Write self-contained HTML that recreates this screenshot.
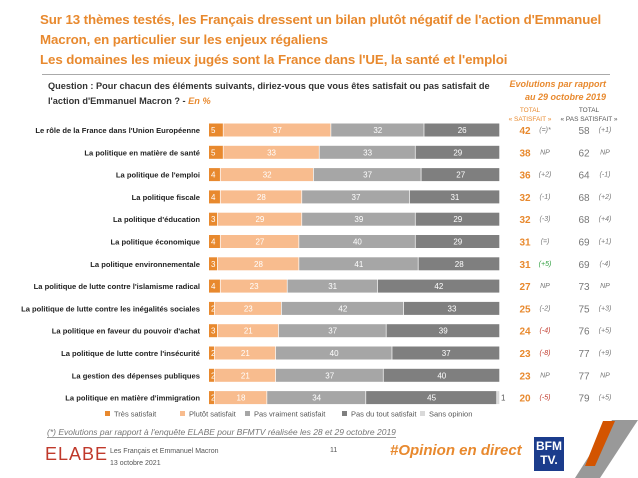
<!DOCTYPE html>
<html><head><meta charset="utf-8"><style>
body{margin:0;width:638px;height:478px;background:#fff;overflow:hidden;font-family:"Liberation Sans",sans-serif;position:relative}
.t{position:absolute;white-space:nowrap}
</style></head><body>
<div class="t" style="left:40px;top:10px;color:#E8892E;font-weight:bold;font-size:13.3px;line-height:20px;letter-spacing:-0.1px">Sur 13 thèmes testés, les Français dressent un bilan plutôt négatif de l'action d'Emmanuel<br>Macron, en particulier sur les enjeux régaliens<br>Les domaines les mieux jugés sont la France dans l'UE, la santé et l'emploi</div>
<div style="position:absolute;left:42px;top:74px;width:568px;height:1px;background:#aaa"></div>
<div class="t" style="left:48px;top:79px;font-size:9.2px;line-height:15px;color:#333;font-weight:bold">Question : Pour chacun des éléments suivants, diriez-vous que vous êtes satisfait ou pas satisfait de<br>l'action d'Emmanuel Macron ? - <i style="color:#E8892E">En %</i></div>
<div class="t" style="left:496px;top:78px;width:110px;text-align:right;font-size:9px;line-height:13px;color:#E8892E;font-style:italic;font-weight:bold">Evolutions par rapport<br>au 29 octobre 2019</div>
<div class="t" style="left:505px;top:106px;width:50px;text-align:center;font-size:6.5px;line-height:9px;color:#E8892E">TOTAL<br>« SATISFAIT »</div>
<div class="t" style="left:557px;top:106px;width:64px;text-align:center;font-size:6.5px;line-height:9px;color:#555">TOTAL<br>« PAS SATISFAIT »</div>
<svg id="c" width="638" height="478" style="position:absolute;left:0;top:0"></svg>
<div class="t" style="left:47px;top:427px;font-size:8.5px;color:#777;font-style:italic;border-bottom:1px solid #999">(*) Evolutions par rapport à l'enquête ELABE pour BFMTV réalisée les 28 et 29 octobre 2019</div>
<div class="t" style="left:45px;top:444px;font-size:18px;color:#c0392b;letter-spacing:1px">ELABE</div>
<div class="t" style="left:110px;top:446px;font-size:7px;line-height:12px;color:#555">Les Français et Emmanuel Macron<br>13 octobre 2021</div>
<div class="t" style="left:330px;top:447px;font-size:7px;color:#555">11</div>
<div class="t" style="left:390px;top:442px;font-size:15px;color:#E8892E;font-style:italic;font-weight:bold">#Opinion en direct</div>
<div style="position:absolute;left:534px;top:437px;width:30px;height:32px;background:#1b3c8c;color:#fff;font-weight:bold;font-size:12px;line-height:14px;text-align:center;padding-top:2px">BFM<br>TV.</div>
<script>
const categories=["Le rôle de la France dans l'Union Européenne","La politique en matière de santé","La politique de l'emploi","La politique fiscale","La politique d'éducation","La politique économique","La politique environnementale","La politique de lutte contre l'islamisme radical","La politique de lutte contre les inégalités sociales","La politique en faveur du pouvoir d'achat","La politique de lutte contre l'insécurité","La gestion des dépenses publiques","La politique en matière d'immigration"];
const tres=[5,5,4,4,3,4,3,4,2,3,2,2,2];
const plutot=[37,33,32,28,29,27,28,23,23,21,21,21,18];
const pasVraiment=[32,33,37,37,39,40,41,31,42,37,40,37,34];
const pasDuTout=[26,29,27,31,29,29,28,42,33,39,37,40,45];
const sansOpinion=[0,0,0,0,0,0,0,0,0,0,0,0,1];
const totSat=[42,38,36,32,32,31,31,27,25,24,23,23,20];
const evoSat=["(=)*","NP","(+2)","(-1)","(-3)","(=)","(+5)","NP","(-2)","(-4)","(-8)","NP","(-5)"];
const totPas=[58,62,64,68,68,69,69,73,75,76,77,77,79];
const evoPas=["(+1)","NP","(-1)","(+2)","(+4)","(+1)","(-4)","NP","(+3)","(+5)","(+9)","NP","(+5)"];
const seriesNames=["Très satisfait","Plutôt satisfait","Pas vraiment satisfait","Pas du tout satisfait","Sans opinion"];
const colors=["#E8892E","#F8BC8E","#A6A6A6","#7F7F7F","#D9D9D9"];
const svg=document.getElementById('c');const NS="http://www.w3.org/2000/svg";
const x0=209,W=291,y0=130,step=22.3,bh=13;
const xs=v=>x0+v*W/100, ys=i=>y0+i*step;
function mk(tag,a){const e=document.createElementNS(NS,tag);for(const k in a)e.setAttribute(k,a[k]);svg.appendChild(e);return e;}
const series=[tres,plutot,pasVraiment,pasDuTout,sansOpinion];
categories.forEach((c,i)=>{
 const cy=ys(i);
 const l=mk('text',{x:200,y:cy+3,'text-anchor':'end','font-size':7.6,'font-weight':'bold',fill:'#222'});l.textContent=c;
 
 
 let acc=0;
 series.forEach((s,k)=>{
  const v=s[i]; if(!v)return;
  const r=mk('rect',{x:xs(acc),y:cy-bh/2,width:xs(acc+v)-xs(acc)-0.7,height:bh,fill:colors[k]});
  
  
  const tx=k===4?xs(acc+v)+1:(xs(acc)+xs(acc+v))/2;
  const t=mk('text',{x:k===0?xs(acc)+2:tx,y:cy+3,'text-anchor':k===0||k===4?'start':'middle','font-size':8,fill:k===4?'#555':'#fff'});t.textContent=v;
  
  
  acc+=v;
 });
 const a=mk('text',{x:525,y:cy+4,'text-anchor':'middle','font-size':10,'font-weight':'bold',fill:'#E8892E'});a.textContent=totSat[i];
 
 
 const ec=evoSat[i].startsWith('(+5')?'#2e9e3e':(['(-4)','(-8)','(-5)'].includes(evoSat[i])?'#c0392b':'#777');
 const b=mk('text',{x:545,y:cy+2,'text-anchor':'middle','font-size':7,'font-style':'italic',fill:ec});b.textContent=evoSat[i];
 
 
 const p=mk('text',{x:584,y:cy+4,'text-anchor':'middle','font-size':10,fill:'#777'});p.textContent=totPas[i];
 
 
 const q=mk('text',{x:605,y:cy+2,'text-anchor':'middle','font-size':7,'font-style':'italic',fill:'#777'});q.textContent=evoPas[i];
 
 
});
const lx=[105,180,245,342,420];
seriesNames.forEach((n,k)=>{
 const r=mk('rect',{x:lx[k],y:411,width:5,height:5,fill:colors[k]});
 
 
 const t=mk('text',{x:lx[k]+9,y:416.5,'font-size':7.5,fill:'#555'});t.textContent=n;
 
 
});
const d1=mk('polygon',{points:'612,420 638,420 600,478 575,478',fill:'#999'});


const d2=mk('polygon',{points:'603,421 615,421 595,466 585,466',fill:'#d35400'});


</script>
</body></html>
